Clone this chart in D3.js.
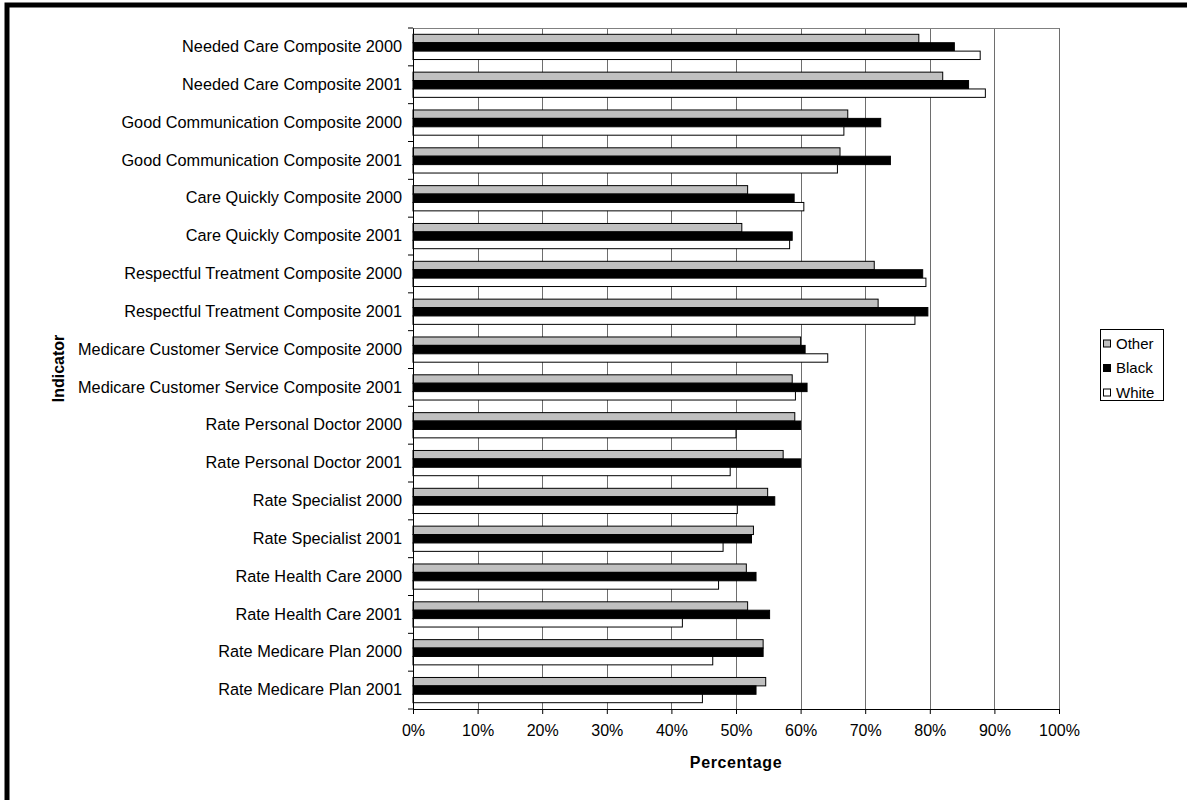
<!DOCTYPE html>
<html>
<head>
<meta charset="utf-8">
<script src="https://cdn.jsdelivr.net/npm/d3@7"></script>
<style>
  html, body { margin: 0; padding: 0; background: #fff; }
  svg { display: block; }
  text { font-family: "Liberation Sans", Arial, sans-serif; fill: #000; }
</style>
</head>
<body>
<svg id="chart" width="1187" height="800"></svg>
<script>
const categories = [
  "Needed Care Composite 2000",
  "Needed Care Composite 2001",
  "Good Communication Composite 2000",
  "Good Communication Composite 2001",
  "Care Quickly Composite 2000",
  "Care Quickly Composite 2001",
  "Respectful Treatment Composite 2000",
  "Respectful Treatment Composite 2001",
  "Medicare Customer Service Composite 2000",
  "Medicare Customer Service Composite 2001",
  "Rate Personal Doctor 2000",
  "Rate Personal Doctor 2001",
  "Rate Specialist 2000",
  "Rate Specialist 2001",
  "Rate Health Care 2000",
  "Rate Health Care 2001",
  "Rate Medicare Plan 2000",
  "Rate Medicare Plan 2001"
];
const seriesNames = ["Other", "Black", "White"];
const otherValues = [78.3, 82.0, 67.3, 66.1, 51.8, 50.9, 71.4, 72.0, 60.0, 58.7, 59.1, 57.3, 54.9, 52.7, 51.6, 51.8, 54.2, 54.6];
const blackValues = [83.8, 86.0, 72.4, 73.9, 59.0, 58.7, 78.9, 79.7, 60.7, 61.0, 60.0, 60.0, 56.0, 52.4, 53.1, 55.2, 54.2, 53.1];
const whiteValues = [87.8, 88.6, 66.7, 65.7, 60.5, 58.3, 79.4, 77.7, 64.2, 59.2, 50.0, 49.1, 50.2, 48.0, 47.3, 41.7, 46.4, 44.8];
const xTicks = [0, 10, 20, 30, 40, 50, 60, 70, 80, 90, 100];
const seriesColors = ["#c0c0c0", "#000000", "#ffffff"];

(function () {
const svg = d3.select("#chart");

// outer frame (thick black, extends beyond right/bottom)
svg.append("rect")
  .attr("x", 7).attr("y", 5)
  .attr("width", 1300).attr("height", 1000)
  .attr("fill", "none").attr("stroke", "#000").attr("stroke-width", 5);

const pLeft = 413, pRight = 1059, pTop = 28, pBottom = 709;

const x = d3.scaleLinear().domain([0, 100]).range([pLeft, pRight]);
const y = d3.scaleBand().domain(categories).range([pTop, pBottom]).paddingInner(0).paddingOuter(0);
const inner = d3.scaleBand().domain(seriesNames).range([0, y.bandwidth()]).paddingInner(0).paddingOuter(0.75);

// gridlines
svg.append("g").selectAll("line").data(xTicks.slice(1)).join("line")
  .attr("x1", d => Math.round(x(d)) + 0.5).attr("x2", d => Math.round(x(d)) + 0.5)
  .attr("y1", pTop).attr("y2", pBottom)
  .attr("stroke", "#6e6e6e").attr("stroke-width", 1);

// plot-area border top
svg.append("line")
  .attr("x1", pLeft).attr("x2", pRight + 0.5)
  .attr("y1", pTop + 0.5).attr("y2", pTop + 0.5)
  .attr("stroke", "#808080");

// bars
const data = categories.map((c, i) => ({ c, vals: [otherValues[i], blackValues[i], whiteValues[i]] }));
const groups = svg.append("g").selectAll("g").data(data).join("g")
  .attr("transform", d => `translate(0,${y(d.c)})`);
groups.selectAll("rect").data(d => d.vals.map((v, j) => ({ v, s: seriesNames[j], j }))).join("rect")
  .attr("x", x(0))
  .attr("y", d => inner(d.s))
  .attr("width", d => x(d.v) - x(0))
  .attr("height", inner.bandwidth())
  .attr("fill", d => seriesColors[d.j])
  .attr("stroke", "#000").attr("stroke-width", 1);

// y axis
const yAxis = d3.axisLeft(y).tickSize(0).tickPadding(11);
const yg = svg.append("g").attr("transform", `translate(${pLeft},0)`).call(yAxis);
yg.select(".domain").attr("stroke", "#000");
yg.selectAll("text").style("font-size", "16.3px").attr("font-family", "Liberation Sans, Arial, sans-serif");
// y tick marks at band boundaries
svg.append("g").selectAll("line").data(d3.range(categories.length + 1)).join("line")
  .attr("x1", pLeft - 5).attr("x2", pLeft)
  .attr("y1", i => pTop + i * y.step()).attr("y2", i => pTop + i * y.step())
  .attr("stroke", "#000");

// x axis
const xAxis = d3.axisBottom(x).tickValues(xTicks).tickFormat(d => d + "%").tickSize(5).tickPadding(11);
const xg = svg.append("g").attr("transform", `translate(0,${pBottom})`).call(xAxis);
xg.select(".domain").attr("stroke", "#000");
xg.selectAll(".tick line").attr("stroke", "#000");
xg.selectAll("text").style("font-size", "16px").attr("font-family", "Liberation Sans, Arial, sans-serif");

// axis titles
svg.append("text")
  .attr("x", (pLeft + pRight) / 2).attr("y", 768)
  .attr("text-anchor", "middle")
  .style("font-size", "16px").style("font-weight", "bold").style("letter-spacing", "0.6px")
  .text("Percentage");
svg.append("text")
  .attr("transform", `translate(64,${(pTop + pBottom) / 2}) rotate(-90)`)
  .attr("text-anchor", "middle")
  .style("font-size", "16px").style("font-weight", "bold")
  .text("Indicator");

// legend
const lg = svg.append("g");
lg.append("rect").attr("x", 1100.5).attr("y", 329.5).attr("width", 63).attr("height", 71)
  .attr("fill", "#fff").attr("stroke", "#000");
seriesNames.forEach((s, i) => {
  const cy = 343.5 + i * 24.5;
  lg.append("rect").attr("x", 1103.5).attr("y", cy - 3.5).attr("width", 7).attr("height", 7)
    .attr("fill", seriesColors[i]).attr("stroke", "#000");
  lg.append("text").attr("x", 1116).attr("y", cy).attr("dy", "0.36em")
    .style("font-size", "15px").text(s);
});
})();
</script>
</body>
</html>
